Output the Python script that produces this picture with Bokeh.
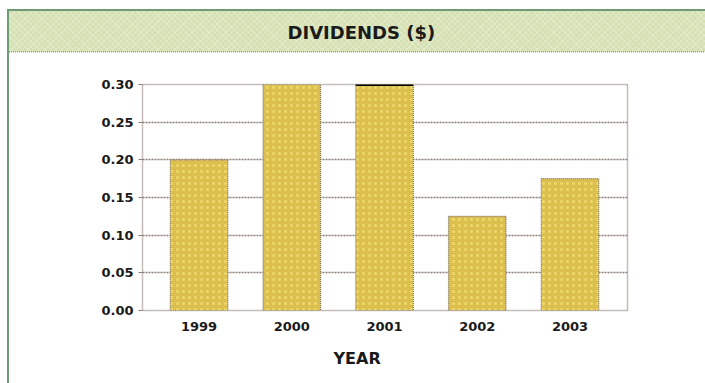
from bokeh.plotting import figure
from bokeh.models import (Range1d, FixedTicker, Title,
                          ColumnDataSource, NumeralTickFormatter)
from bokeh.embed import file_html
from bokeh.resources import INLINE

# --- data -------------------------------------------------------------
years = ["1999", "2000", "2001", "2002", "2003"]
dividends = [0.20, 0.30, 0.30, 0.125, 0.175]
y_ticks = [0.00, 0.05, 0.10, 0.15, 0.20, 0.25, 0.30]
title_text = "DIVIDENDS ($)"
x_label = "YEAR"

FONT = "DejaVu Sans"
W, H = 705, 383
BORDER_GREEN = "#6e9a74"
HEADER_FILL = "#d6e1b3"
GRID = "#8a7d76"
INK = "#1a1a1a"

xs = list(range(len(years)))
src = ColumnDataSource(dict(x=xs, top=dividends, year=years))
bar_w = 0.62

p = figure(width=W, height=H, output_backend="svg", toolbar_location=None,
           x_range=Range1d(-0.61, 4.62), y_range=Range1d(0, 0.30),
           min_border_left=142, min_border_right=78,
           min_border_top=84, min_border_bottom=73,
           outline_line_color=GRID, outline_line_dash="1 1", outline_line_width=1.5,
           background_fill_color="white",
           border_fill_color="white", border_fill_alpha=0)

# page furniture behind the (transparent) border area: header band,
# its texture, the green top/left rules and the dotted underline
solid = lambda c: f"linear-gradient({c}, {c})"
layers = [
    (solid(BORDER_GREEN), "7px 9px", "2px 374px"),
    (solid(BORDER_GREEN), "7px 9px", "698px 2px"),
    ("repeating-linear-gradient(90deg, #98a882 0 1px, transparent 1px 2px)",
     "7px 51px", "698px 1.5px"),
    ("repeating-linear-gradient(45deg, rgba(255,255,255,0.22) 0 1px, transparent 1px 4px)",
     "7px 9px", "698px 43px"),
    ("repeating-linear-gradient(-45deg, rgba(255,255,255,0.22) 0 1px, transparent 1px 4px)",
     "7px 9px", "698px 43px"),
    (solid(HEADER_FILL), "7px 9px", "698px 43px"),
]
p.styles = {
    "background-color": "white",
    "background-image": ", ".join(l[0] for l in layers),
    "background-position": ", ".join(l[1] for l in layers),
    "background-size": ", ".join(l[2] for l in layers),
    "background-repeat": "no-repeat",
}

# blank spacer between the frame and the title, so the title lands in the band
p.add_layout(Title(text=" ", text_font_size="1px", standoff=34), "above")

# chart title, sitting in the header band
p.title = Title(text=title_text, align="left", offset=145, standoff=10,
                text_font=FONT, text_font_style="bold", text_font_size="18px",
                text_color=INK)

p.vbar(x="x", top="top", bottom=0, width=bar_w, source=src,
       fill_color="#dcbf4c", line_color="#7d7068", line_dash="1 1", line_width=1.2,
       hatch_pattern="dot", hatch_color="#f4e67c", hatch_scale=6,
       hatch_weight=1, hatch_alpha=0.7)

# solid cap on the 2001 bar
i01 = years.index("2001")
p.segment(x0=[xs[i01] - bar_w / 2], x1=[xs[i01] + bar_w / 2],
          y0=[dividends[i01]], y1=[dividends[i01]], line_color="black", line_width=3)

# y axis
p.yaxis.ticker = FixedTicker(ticks=y_ticks)
p.yaxis.formatter = NumeralTickFormatter(format="0.00")
p.yaxis.axis_line_color = None
p.yaxis.major_tick_out = 4
p.yaxis.major_tick_in = 0
p.yaxis.major_tick_line_color = GRID
p.yaxis.minor_tick_line_color = None
p.yaxis.major_label_standoff = 5

# x axis
p.xaxis.ticker = FixedTicker(ticks=xs)
p.xaxis.major_label_overrides = {i: y for i, y in zip(xs, years)}
p.xaxis.axis_line_color = None
p.xaxis.major_tick_out = 0
p.xaxis.major_tick_in = 0
p.xaxis.minor_tick_line_color = None
p.xaxis.major_label_standoff = 11

for ax in (p.xaxis, p.yaxis):
    ax.major_label_text_font = FONT
    ax.major_label_text_font_style = "bold"
    ax.major_label_text_font_size = "13px"
    ax.major_label_text_color = INK

p.xgrid.visible = False
p.ygrid.ticker = FixedTicker(ticks=y_ticks)
p.ygrid.grid_line_color = GRID
p.ygrid.grid_line_dash = "2 1"
p.ygrid.grid_line_width = 1.5

# x axis caption
p.add_layout(Title(text=x_label, align="left", offset=191, standoff=27,
                   text_font=FONT, text_font_style="bold", text_font_size="16px",
                   text_color=INK), "below")

open("out.html", "w").write(file_html(p, INLINE))
